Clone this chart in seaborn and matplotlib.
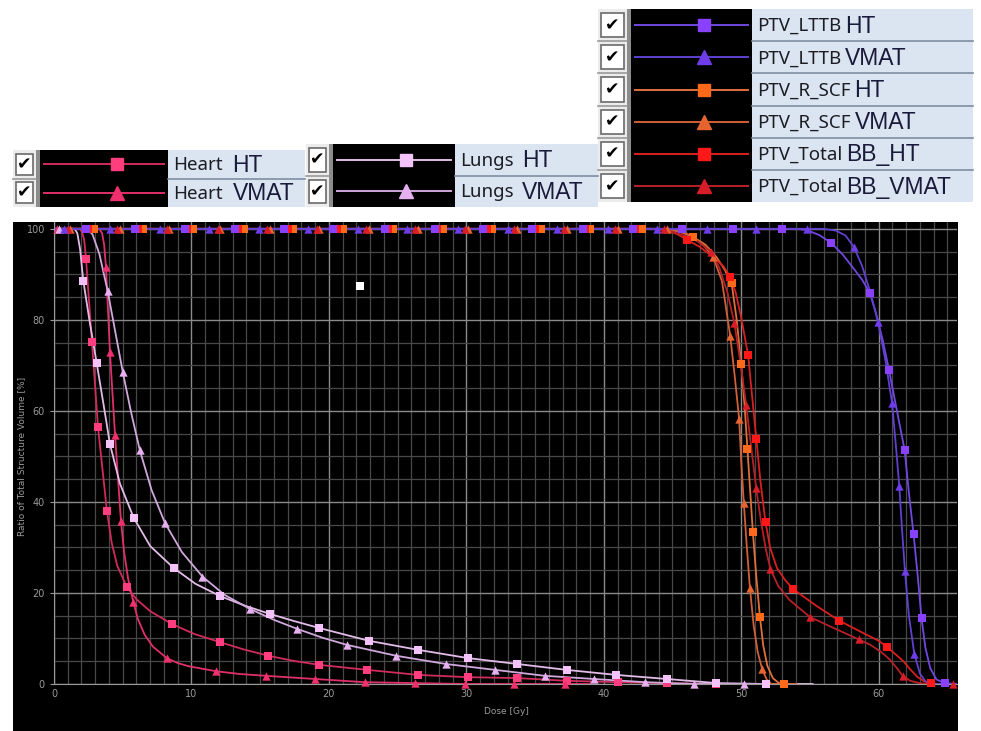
import matplotlib
matplotlib.use("Agg")
import matplotlib.pyplot as plt
import matplotlib.patches as mpatches
from matplotlib.lines import Line2D
import numpy as np
import seaborn as sns

# ---- DVH curves (dose in Gy, volume in %) ----
heart_ht_dose = [0, 1.9, 2.05, 2.2, 2.33, 2.76, 3.2, 3.85, 4.2, 4.6, 5.3, 6.0, 7.0, 8.56, 10.2, 12.07, 13.8, 15.6, 17.4, 19.3, 22.8, 26.5, 30.1, 33.7, 37.3, 41.0, 44.6, 48.2, 52.0]
heart_ht_vol = [100, 100, 99.2, 97.5, 93.4, 75.2, 56.5, 38.0, 31.0, 26.0, 21.3, 18.6, 16.0, 13.2, 11.0, 9.2, 7.6, 6.2, 5.1, 4.2, 3.1, 2.0, 1.5, 1.3, 0.7, 0.4, 0.2, 0.0, 0.0]
heart_ht_mk_dose = [2.33, 2.76, 3.2, 3.85, 5.3, 8.56, 12.07, 15.6, 19.3, 22.8, 26.5, 30.1, 33.7, 37.3, 41.0, 44.6, 48.2]
heart_ht_mk_vol = [93.4, 75.2, 56.5, 38.0, 21.3, 13.2, 9.2, 6.2, 4.2, 3.1, 2.0, 1.5, 1.3, 0.7, 0.4, 0.2, 0.0]

heart_vmat_dose = [0, 3.3, 3.5, 3.65, 3.78, 4.07, 4.44, 4.87, 5.1, 5.4, 5.75, 6.1, 6.6, 7.2, 8.2, 9.0, 9.8, 11.8, 13.5, 15.4, 19.0, 22.6, 26.3, 29.9, 37.2, 39.0]
heart_vmat_vol = [100, 100, 99.0, 96.5, 91.6, 73.0, 54.7, 35.9, 29.0, 23.0, 18.3, 14.3, 10.8, 8.2, 5.7, 4.6, 3.9, 2.8, 2.2, 1.8, 1.1, 0.4, 0.2, 0.0, 0.0, 0.0]
heart_vmat_mk_dose = [0.2, 3.78, 4.07, 4.44, 4.87, 5.75, 8.2, 11.8, 15.4, 19.0, 22.6, 26.3, 29.9, 33.5, 37.2]
heart_vmat_mk_vol = [100, 91.6, 73.0, 54.7, 35.9, 18.0, 5.7, 2.8, 1.8, 1.1, 0.4, 0.2, 0.0, 0.0, 0.0]

lungs_ht_dose = [0, 1.5, 1.7, 1.9, 2.13, 2.6, 3.1, 3.6, 4.07, 4.8, 5.8, 7.0, 8.7, 10.3, 12.1, 13.9, 15.7, 17.5, 19.3, 22.9, 26.5, 30.1, 33.7, 37.3, 40.9, 44.6, 48.2, 51.8, 55.2]
lungs_ht_vol = [100, 100, 99.0, 95.5, 88.6, 79.5, 70.6, 61.5, 52.7, 44.0, 36.5, 30.3, 25.5, 22.0, 19.3, 17.2, 15.4, 13.8, 12.3, 9.5, 7.5, 5.7, 4.4, 3.1, 2.0, 1.1, 0.2, 0.0, 0.0]
lungs_ht_mk_dose = [2.13, 3.1, 4.07, 5.8, 8.7, 12.1, 15.7, 19.3, 22.9, 26.5, 30.1, 33.7, 37.3, 40.9, 44.6, 48.2, 51.8]
lungs_ht_mk_vol = [88.6, 70.6, 52.7, 36.5, 25.5, 19.3, 15.4, 12.3, 9.5, 7.5, 5.7, 4.4, 3.1, 2.0, 1.1, 0.2, 0.0]

lungs_vmat_dose = [0, 2.4, 2.8, 3.3, 3.9, 4.45, 5.0, 5.6, 6.25, 7.1, 8.07, 9.3, 10.8, 12.4, 14.25, 16.0, 17.7, 19.5, 21.3, 24.9, 28.5, 32.1, 35.7, 39.3, 43.0, 46.6, 50.2, 53.0]
lungs_vmat_vol = [100, 100, 98.8, 94.5, 86.4, 77.5, 68.6, 59.8, 51.3, 42.6, 35.4, 29.0, 23.6, 19.6, 16.5, 14.1, 12.1, 10.2, 8.6, 6.2, 4.4, 3.1, 1.8, 1.1, 0.4, 0.0, 0.0, 0.0]
lungs_vmat_mk_dose = [0.4, 3.9, 5.0, 6.25, 8.07, 10.8, 14.25, 17.7, 21.3, 24.9, 28.5, 32.1, 35.7, 39.3, 43.0, 46.6, 50.2]
lungs_vmat_mk_vol = [100, 86.4, 68.6, 51.3, 35.4, 23.6, 16.5, 12.1, 8.6, 6.2, 4.4, 3.1, 1.8, 1.1, 0.4, 0.0, 0.0]

rscf_ht_dose = [0, 44.0, 44.8, 45.6, 46.5, 47.4, 48.2, 48.8, 49.3, 49.65, 50.0, 50.25, 50.45, 50.65, 50.85, 51.1, 51.36, 51.6, 51.9, 52.3, 52.7, 53.1, 54.0]
rscf_ht_vol = [100, 100, 99.8, 99.3, 98.2, 96.5, 93.8, 91.0, 88.1, 80.5, 70.3, 61.0, 51.7, 42.5, 33.3, 23.5, 14.8, 8.5, 4.0, 1.3, 0.3, 0.0, 0.0]
rscf_ht_mk_dose = [2.9, 6.5, 10.1, 13.8, 17.4, 21.0, 24.7, 28.3, 31.9, 35.4, 39.0, 42.8, 46.5, 49.3, 50.0, 50.45, 50.85, 51.36, 53.1]
rscf_ht_mk_vol = [100, 100, 100, 100, 100, 100, 100, 100, 100, 100, 100, 100, 98.2, 88.1, 70.3, 51.7, 33.3, 14.8, 0.0]

rscf_vmat_dose = [0, 44.0, 45.0, 46.0, 47.0, 47.95, 48.6, 49.2, 49.55, 49.85, 50.0, 50.19, 50.4, 50.63, 50.9, 51.2, 51.53, 51.85, 52.2, 54.0]
rscf_vmat_vol = [100, 100, 99.7, 99.0, 97.2, 93.9, 88.5, 76.5, 67.0, 58.2, 49.0, 39.7, 30.5, 21.2, 13.0, 7.0, 3.2, 1.0, 0.0, 0.0]
rscf_vmat_mk_dose = [1.2, 4.8, 8.4, 12.1, 15.7, 19.3, 22.9, 26.5, 30.1, 33.7, 37.3, 41.0, 44.6, 47.95, 49.2, 49.85, 50.19, 50.63, 51.53]
rscf_vmat_mk_vol = [100, 100, 100, 100, 100, 100, 100, 100, 100, 100, 100, 100, 100, 93.9, 76.5, 58.2, 39.7, 21.2, 3.2]

total_ht_dose = [0, 43.5, 44.5, 45.3, 46.06, 47.0, 48.0, 48.7, 49.2, 49.6, 50.0, 50.5, 50.8, 51.1, 51.4, 51.77, 52.1, 52.6, 53.2, 53.8, 55.5, 57.14, 59.0, 60.0, 60.58, 61.2, 61.8, 62.3, 62.8, 63.3, 63.8, 64.5, 65.5]
total_ht_vol = [100, 100, 99.7, 98.9, 97.6, 96.0, 93.7, 91.8, 89.5, 86.0, 80.5, 72.3, 63.0, 53.8, 44.5, 35.5, 30.0, 25.5, 22.8, 20.8, 17.1, 13.9, 11.0, 9.5, 8.2, 6.6, 5.0, 3.2, 1.6, 0.6, 0.15, 0.0, 0.0]
total_ht_mk_dose = [2.5, 6.1, 9.7, 13.4, 17.0, 20.6, 24.3, 27.9, 31.5, 35.0, 38.6, 42.3, 46.06, 49.2, 50.5, 51.1, 51.77, 53.8, 57.14, 60.58, 63.8]
total_ht_mk_vol = [100, 100, 100, 100, 100, 100, 100, 100, 100, 100, 100, 100, 97.6, 89.5, 72.3, 53.8, 35.5, 20.8, 13.9, 8.2, 0.15]

total_vmat_dose = [0, 43.5, 44.8, 45.8, 46.8, 47.8, 48.4, 49.0, 49.5, 49.95, 50.36, 50.73, 51.09, 51.45, 51.8, 52.13, 52.7, 53.5, 55.0, 56.8, 58.55, 59.4, 60.2, 60.8, 61.3, 61.74, 62.3, 62.95, 63.6, 65.5]
total_vmat_vol = [100, 100, 99.5, 98.6, 97.3, 95.0, 91.5, 86.0, 79.3, 70.5, 61.3, 52.0, 43.0, 35.5, 29.5, 25.2, 21.5, 18.5, 14.7, 12.2, 9.8, 8.6, 7.0, 5.4, 3.6, 1.8, 0.7, 0.2, 0.0, 0.0]
total_vmat_mk_dose = [1.0, 4.6, 8.2, 11.9, 15.5, 19.1, 22.7, 26.3, 29.9, 33.5, 37.1, 40.8, 44.4, 47.8, 49.5, 50.36, 51.09, 52.13, 55.0, 58.55, 61.74, 65.4]
total_vmat_mk_vol = [100, 100, 100, 100, 100, 100, 100, 100, 100, 100, 100, 100, 100, 95.0, 79.3, 61.3, 43.0, 25.2, 14.7, 9.8, 1.8, 0.0]

lttb_ht_dose = [0, 54.0, 54.8, 55.7, 56.55, 57.4, 58.2, 58.8, 59.35, 59.8, 60.3, 60.75, 61.3, 61.89, 62.2, 62.54, 62.85, 63.12, 63.4, 63.75, 64.2, 64.8, 65.7]
lttb_ht_vol = [100, 100, 99.7, 98.6, 96.9, 94.3, 91.2, 88.8, 86.0, 81.5, 75.5, 69.0, 60.5, 51.4, 42.0, 32.9, 23.5, 14.4, 8.0, 3.5, 1.0, 0.2, 0.0]
lttb_ht_mk_dose = [2.3, 5.9, 9.5, 13.2, 16.7, 20.3, 24.1, 27.7, 31.2, 34.8, 38.5, 42.1, 45.7, 49.4, 53.0, 56.55, 59.35, 60.75, 61.89, 62.54, 63.12, 64.8]
lttb_ht_mk_vol = [100, 100, 100, 100, 100, 100, 100, 100, 100, 100, 100, 100, 100, 100, 100, 96.9, 86.0, 69.0, 51.4, 32.9, 14.4, 0.2]

lttb_vmat_dose = [0, 56.0, 56.9, 57.6, 58.2, 58.8, 59.4, 59.95, 60.5, 60.97, 61.25, 61.5, 61.7, 61.91, 62.2, 62.59, 63.0, 63.4, 63.8, 65.7]
lttb_vmat_vol = [100, 100, 99.6, 98.5, 96.0, 91.8, 86.0, 79.6, 71.0, 61.8, 52.5, 43.5, 34.0, 24.9, 15.0, 6.7, 2.3, 0.6, 0.0, 0.0]
lttb_vmat_mk_dose = [0.7, 4.1, 7.7, 11.3, 14.9, 18.5, 22.1, 25.7, 29.4, 33.0, 36.6, 40.3, 43.9, 47.5, 51.1, 54.8, 58.2, 59.95, 60.97, 61.5, 61.91, 62.59]
lttb_vmat_mk_vol = [100, 100, 100, 100, 100, 100, 100, 100, 100, 100, 100, 100, 100, 100, 100, 100, 96.0, 79.6, 61.8, 43.5, 24.9, 6.7]

# cursor point left on the screenshot
cursor_dose = [22.3]
cursor_vol = [87.5]

# structure, plan, curve, markers, line colour, marker colour, marker
series = [
    ("Heart", "HT", heart_ht_dose, heart_ht_vol, heart_ht_mk_dose, heart_ht_mk_vol, "#d02c5c", "#ff3d7f", "s"),
    ("Heart", "VMAT", heart_vmat_dose, heart_vmat_vol, heart_vmat_mk_dose, heart_vmat_mk_vol, "#e0306a", "#f0306e", "^"),
    ("Lungs", "HT", lungs_ht_dose, lungs_ht_vol, lungs_ht_mk_dose, lungs_ht_mk_vol, "#e2bce8", "#f2c2f8", "s"),
    ("Lungs", "VMAT", lungs_vmat_dose, lungs_vmat_vol, lungs_vmat_mk_dose, lungs_vmat_mk_vol, "#d0a8dc", "#e6b0f0", "^"),
    ("PTV_R_SCF", "HT", rscf_ht_dose, rscf_ht_vol, rscf_ht_mk_dose, rscf_ht_mk_vol, "#e0703a", "#ff6a1a", "s"),
    ("PTV_R_SCF", "VMAT", rscf_vmat_dose, rscf_vmat_vol, rscf_vmat_mk_dose, rscf_vmat_mk_vol, "#d06038", "#e8642e", "^"),
    ("PTV_Total", "BB_HT", total_ht_dose, total_ht_vol, total_ht_mk_dose, total_ht_mk_vol, "#d82020", "#ff1818", "s"),
    ("PTV_Total", "BB_VMAT", total_vmat_dose, total_vmat_vol, total_vmat_mk_dose, total_vmat_mk_vol, "#b82028", "#d81c28", "^"),
    ("PTV_LTTB", "HT", lttb_ht_dose, lttb_ht_vol, lttb_ht_mk_dose, lttb_ht_mk_vol, "#7048e0", "#8a40ff", "s"),
    ("PTV_LTTB", "VMAT", lttb_vmat_dose, lttb_vmat_vol, lttb_vmat_mk_dose, lttb_vmat_mk_vol, "#6040d0", "#6e3ce8", "^"),
]

W, H = 981, 731


def fx(px):
    return px / W


def fy(py):
    return 1 - py / H


fig = plt.figure(figsize=(9.81, 7.31), dpi=100)
fig.patch.set_facecolor("white")

# black panel of the DVH window
fig.add_artist(mpatches.Rectangle((fx(13), 0), fx(958) - fx(13), fy(222), transform=fig.transFigure,
                                  facecolor="black", edgecolor="none", zorder=0))

ax = fig.add_axes([fx(54), fy(684), fx(957) - fx(54), fy(222) - fy(684)])
ax.set_facecolor("black")

for name, plan, d, v, md, mv, lc, mc, mk in series:
    sns.lineplot(x=d, y=v, ax=ax, color=lc, lw=1.3, sort=False, estimator=None, zorder=2)
    sns.scatterplot(x=md, y=mv, ax=ax, marker=mk, s=30 if mk == "s" else 36, color=mc,
                    linewidth=0, zorder=3, clip_on=False)

sns.scatterplot(x=cursor_dose, y=cursor_vol, ax=ax, marker="s", s=30, color="white", linewidth=0, zorder=4)

ax.set_xlim(0, 65.7)
ax.set_ylim(0, 101.5)
ax.set_xticks(np.arange(0, 61, 10))
ax.set_xticks(np.arange(0, 66, 1), minor=True)
ax.set_yticks(np.arange(0, 101, 20))
ax.set_yticks(np.arange(0, 101, 5), minor=True)
ax.grid(which="major", color="#8a8a8a", lw=1.0, zorder=1)
ax.grid(which="minor", color="#484848", lw=0.9, zorder=1)
ax.set_axisbelow(True)
ax.tick_params(which="both", colors="#9a9a9a", labelsize=7, length=0)
ax.tick_params(axis="y", which="major", length=3)
for s in ["top", "right"]:
    ax.spines[s].set_visible(False)
for s in ["left", "bottom"]:
    ax.spines[s].set_color("#9a9a9a")
ax.set_xlabel("")
ax.set_ylabel("")
fig.text(fx(22), fy(456), "Ratio of Total Structure Volume [%]", rotation=90, color="#9a9a9a",
         fontsize=6.5, ha="center", va="center")
fig.text(fx(506), fy(712), "Dose [Gy]", color="#9a9a9a", fontsize=6.5, ha="center", va="center")

# ---- the three legend panels pasted above the plot ----
blocks = [
    # series rows, x of checkbox / black / label / end, top y, row height, gap name->suffix
    ([0, 1], 13, 40, 168, 305, 150, 28.5, 10),
    ([2, 3], 306, 333, 455, 598, 144, 31.5, 8),
    ([8, 9, 4, 5, 6, 7], 598, 631, 752, 973, 9, 32.2, 4),
]

renderer = fig.canvas.get_renderer()
for rows, xc, xb, xt, xe, top, rh, gap in blocks:
    n = len(rows)
    bottom = top + n * rh
    fig.add_artist(mpatches.Rectangle((fx(xc), fy(bottom)), fx(xb) - fx(xc), fy(top) - fy(bottom),
                                      transform=fig.transFigure, facecolor="#ececec", edgecolor="none"))
    fig.add_artist(mpatches.Rectangle((fx(xb - 4), fy(bottom)), fx(4), fy(top) - fy(bottom),
                                      transform=fig.transFigure, facecolor="#8c8c8c", edgecolor="none"))
    fig.add_artist(mpatches.Rectangle((fx(xb), fy(bottom)), fx(xt) - fx(xb), fy(top) - fy(bottom),
                                      transform=fig.transFigure, facecolor="black", edgecolor="none"))
    fig.add_artist(mpatches.Rectangle((fx(xt), fy(bottom)), fx(xe) - fx(xt), fy(top) - fy(bottom),
                                      transform=fig.transFigure, facecolor="#dbe5f1", edgecolor="none"))
    for i, idx in enumerate(rows):
        name, plan, d, v, md, mv, lc, mc, mk = series[idx]
        r0 = top + i * rh
        yc = r0 + rh / 2
        if i > 0:
            fig.add_artist(Line2D([fx(xc), fx(xb - 4)], [fy(r0), fy(r0)], transform=fig.transFigure,
                                  color="#9a9a9a", lw=1.2))
            fig.add_artist(Line2D([fx(xt), fx(xe)], [fy(r0), fy(r0)], transform=fig.transFigure,
                                  color="#7f8ea3", lw=1.2))
        # checkbox
        fig.add_artist(mpatches.Rectangle((fx(xc + 3), fy(r0 + rh - 4)), fx(xb - xc - 10), fy(r0 + 4) - fy(r0 + rh - 4),
                                          transform=fig.transFigure, facecolor="white", edgecolor="#6a6a6a", lw=1.2))
        fig.text(fx(xc + 3 + (xb - xc - 10) / 2), fy(yc), "\u2714", fontsize=12.5, color="black",
                 ha="center", va="center", family="DejaVu Sans")
        # handle
        fig.add_artist(Line2D([fx(xb + 4), fx(xt - 4)], [fy(yc), fy(yc)], transform=fig.transFigure,
                              color=lc, lw=1.4))
        fig.add_artist(Line2D([fx(xb + 0.6 * (xt - xb))], [fy(yc)], transform=fig.transFigure,
                              marker=mk, ms=8.5 if mk == "s" else 9.5, color=mc, lw=0))
        t = fig.text(fx(xt + 5), fy(yc + 1), name, fontsize=13.5, family="Noto Sans", color="#1c1c24",
                     ha="left", va="center")
        x1 = t.get_window_extent(renderer).x1
        fig.text(fx(x1 + gap), fy(yc + 1), plan, fontsize=16.5, family="Liberation Sans", color="#1a1a3a",
                 ha="left", va="center")

fig.savefig("out.png", dpi=100)
